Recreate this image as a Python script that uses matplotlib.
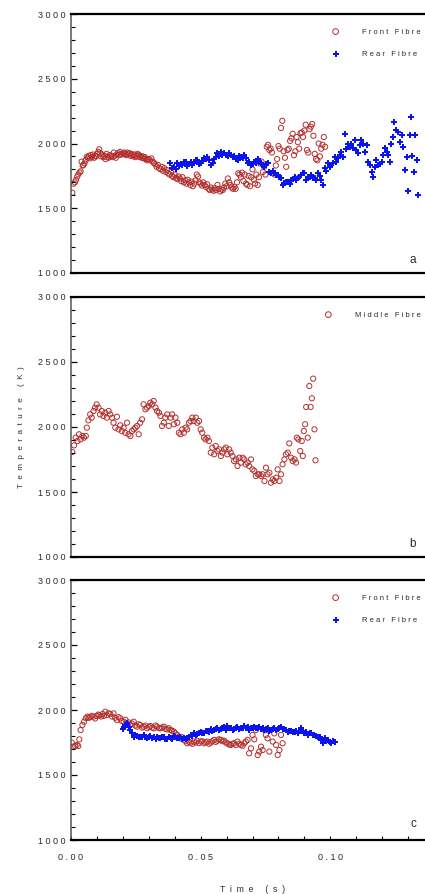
import numpy as np
import matplotlib
matplotlib.use("Agg")
import matplotlib.pyplot as plt

plt.rcParams['font.family'] = ['Liberation Sans', 'DejaVu Sans']

# panel a - front fibre (time s, temperature K)
a_front_t = [0.0005, 0.0010, 0.0015, 0.0019, 0.0024, 0.0028, 0.0033, 0.0037, 0.0041, 0.0045,
             0.0048, 0.0052, 0.0056, 0.0061, 0.0065, 0.0069, 0.0073, 0.0077, 0.0081, 0.0085,
             0.0089, 0.0093, 0.0097, 0.0101, 0.0105, 0.0109, 0.0113, 0.0117, 0.0121, 0.0125,
             0.0129, 0.0133, 0.0137, 0.0141, 0.0145, 0.0149, 0.0153, 0.0157, 0.0161, 0.0165,
             0.0169, 0.0173, 0.0177, 0.0181, 0.0185, 0.0189, 0.0193, 0.0197, 0.0201, 0.0205,
             0.0209, 0.0213, 0.0217, 0.0221, 0.0225, 0.0229, 0.0233, 0.0237, 0.0241, 0.0245,
             0.0249, 0.0253, 0.0257, 0.0261, 0.0265, 0.0269, 0.0273, 0.0277, 0.0281, 0.0285,
             0.0289, 0.0293, 0.0297, 0.0300, 0.0305, 0.0310, 0.0315, 0.0320, 0.0325, 0.0330,
             0.0335, 0.0340, 0.0345, 0.0350, 0.0355, 0.0360, 0.0365, 0.0370, 0.0375, 0.0380,
             0.0385, 0.0390, 0.0395, 0.0400, 0.0405, 0.0410, 0.0415, 0.0420, 0.0425, 0.0430,
             0.0435, 0.0440, 0.0445, 0.0450, 0.0455, 0.0460, 0.0465, 0.0470, 0.0475, 0.0480,
             0.0485, 0.0490, 0.0495, 0.0500, 0.0505, 0.0510, 0.0515, 0.0520, 0.0525, 0.0530,
             0.0535, 0.0540, 0.0545, 0.0550, 0.0555, 0.0560, 0.0565, 0.0570, 0.0575, 0.0580,
             0.0585, 0.0590, 0.0595, 0.0600, 0.0605, 0.0610, 0.0615, 0.0620, 0.0625, 0.0630,
             0.0635, 0.0640, 0.0645, 0.0650, 0.0655, 0.0660, 0.0665, 0.0670, 0.0675, 0.0680,
             0.0685, 0.0690, 0.0695, 0.0700, 0.0705, 0.0710, 0.0715, 0.0720, 0.0725, 0.0730,
             0.0735, 0.0740, 0.0745, 0.0750, 0.0755, 0.0760, 0.0765, 0.0770, 0.0775, 0.0780,
             0.0785, 0.0790, 0.0795, 0.0800, 0.0805, 0.0810, 0.0815, 0.0820, 0.0825, 0.0830,
             0.0835, 0.0840, 0.0845, 0.0850, 0.0855, 0.0860, 0.0865, 0.0870, 0.0875, 0.0880,
             0.0885, 0.0890, 0.0895, 0.0900, 0.0905, 0.0910, 0.0915, 0.0920, 0.0925, 0.0930,
             0.0935, 0.0940, 0.0945, 0.0950, 0.0955, 0.0960, 0.0965, 0.0970, 0.0975, 0.0980]
a_front_T = [1620, 1690, 1700, 1718, 1745, 1762, 1775, 1785, 1860, 1830,
             1833, 1846, 1870, 1897, 1890, 1905, 1885, 1910, 1895, 1915,
             1890, 1905, 1900, 1920, 1935, 1955, 1925, 1900, 1915, 1895,
             1905, 1880, 1920, 1895, 1890, 1910, 1900, 1905, 1895, 1930,
             1905, 1890, 1915, 1925, 1910, 1935, 1920, 1915, 1925, 1930,
             1920, 1910, 1930, 1915, 1925, 1905, 1920, 1910, 1900, 1915,
             1895, 1905, 1920, 1910, 1895, 1905, 1890, 1900, 1885, 1895,
             1880, 1870, 1880, 1880, 1870, 1885, 1860, 1850, 1840, 1820,
             1835, 1810, 1800, 1820, 1790, 1810, 1780, 1795, 1770, 1760,
             1780, 1750, 1740, 1760, 1735, 1725, 1745, 1730, 1710, 1740,
             1700, 1715, 1690, 1720, 1700, 1680, 1705, 1670, 1690, 1715,
             1760, 1745, 1700, 1690, 1675, 1700, 1680, 1665, 1685, 1650,
             1640, 1660, 1645, 1635, 1655, 1640, 1680, 1650, 1630, 1645,
             1640, 1660, 1690, 1670, 1730, 1700, 1680, 1660, 1650, 1665,
             1650, 1700, 1770, 1760, 1740, 1775, 1710, 1760, 1690, 1680,
             1750, 1670, 1740, 1800, 1720, 1690, 1760, 1680, 1740, 1845,
             1860, 1780, 1820, 1760, 1975, 1990, 1950, 1960, 1930, 1770,
             1760, 1830, 1880, 1980, 1960, 2120, 2175, 1940, 1890, 1820,
             1950, 1960, 2020, 2040, 2075, 1910, 1940, 2050, 2010, 1960,
             2080, 2085, 2050, 2100, 2145, 1950, 1930, 2110, 2130, 2150,
             2060, 1920, 1880, 1870, 2000, 1900, 1960, 1990, 2050, 1975]

# panel a - rear fibre
a_rear_t = [0.0381, 0.0389, 0.0397, 0.0404, 0.0410, 0.0417, 0.0423, 0.0429, 0.0436, 0.0442,
            0.0449, 0.0455, 0.0462, 0.0468, 0.0474, 0.0481, 0.0487, 0.0494, 0.0500, 0.0507,
            0.0513, 0.0520, 0.0526, 0.0533, 0.0539, 0.0548, 0.0552, 0.0558, 0.0565, 0.0571,
            0.0578, 0.0584, 0.0591, 0.0597, 0.0604, 0.0610, 0.0617, 0.0623, 0.0630, 0.0636,
            0.0643, 0.0649, 0.0656, 0.0662, 0.0668, 0.0674, 0.0681, 0.0688, 0.0694, 0.0700,
            0.0707, 0.0713, 0.0720, 0.0726, 0.0733, 0.0740, 0.0746, 0.0752, 0.0758, 0.0765,
            0.0771, 0.0778, 0.0784, 0.0790, 0.0797, 0.0803, 0.0810, 0.0817, 0.0823, 0.0830,
            0.0836, 0.0843, 0.0849, 0.0856, 0.0862, 0.0868, 0.0875, 0.0881, 0.0888, 0.0894,
            0.0900, 0.0907, 0.0913, 0.0920, 0.0927, 0.0933, 0.0940, 0.0946, 0.0952, 0.0959,
            0.0965, 0.0972, 0.0978, 0.0985, 0.0991, 0.0998, 0.1004, 0.1010, 0.1017, 0.1023,
            0.1030, 0.1036, 0.1043, 0.1049, 0.1056, 0.1062, 0.1068, 0.1075, 0.1081, 0.1088,
            0.1094, 0.1101, 0.1107, 0.1114, 0.1120, 0.1127, 0.1133, 0.1140, 0.1146, 0.1152,
            0.1159, 0.1165, 0.1172, 0.1178, 0.1185, 0.1191, 0.1198, 0.1204, 0.1211, 0.1217,
            0.1224, 0.1230, 0.1236, 0.1243, 0.1247, 0.1253, 0.1260, 0.1269, 0.1275, 0.1282,
            0.1288, 0.1295, 0.1301, 0.1307, 0.1311, 0.1317, 0.1323, 0.1327, 0.1333, 0.1337]
a_rear_T = [1850, 1810, 1820, 1800, 1846, 1825, 1840, 1833, 1855, 1859,
            1830, 1841, 1860, 1835, 1851, 1870, 1872, 1840, 1846, 1865,
            1885, 1880, 1897, 1870, 1833, 1851, 1880, 1897, 1923, 1905,
            1936, 1915, 1925, 1910, 1900, 1923, 1915, 1897, 1905, 1880,
            1872, 1900, 1897, 1885, 1910, 1885, 1846, 1860, 1833, 1840,
            1859, 1850, 1877, 1860, 1846, 1835, 1820, 1840, 1846, 1782,
            1770, 1790, 1770, 1760, 1757, 1745, 1731, 1680, 1692, 1700,
            1705, 1690, 1718, 1725, 1744, 1720, 1731, 1745, 1757, 1770,
            1770, 1718, 1740, 1744, 1757, 1735, 1730, 1718, 1770, 1750,
            1718, 1680, 1808, 1790, 1846, 1820, 1833, 1846, 1897, 1860,
            1885, 1910, 1936, 1895, 2077, 1960, 2000, 1974, 2000, 1962,
            2026, 1949, 1923, 1990, 2026, 2000, 1936, 1987, 1859, 1833,
            1782, 1744, 1820, 1872, 1833, 1845, 1859, 1910, 1962, 1936,
            1910, 1859, 2000, 2051, 2167, 2103, 2090, 2013, 2064, 1974,
            1795, 1897, 1633, 2064, 2205, 1905, 1782, 2064, 1872, 1603]

# panel b - middle fibre
b_mid_t = [0.0005, 0.0012, 0.0018, 0.0025, 0.0031, 0.0037, 0.0044, 0.0050, 0.0057, 0.0061,
           0.0067, 0.0074, 0.0080, 0.0087, 0.0093, 0.0099, 0.0106, 0.0112, 0.0119, 0.0125,
           0.0132, 0.0138, 0.0145, 0.0151, 0.0158, 0.0164, 0.0171, 0.0177, 0.0183, 0.0190,
           0.0196, 0.0203, 0.0209, 0.0216, 0.0222, 0.0229, 0.0235, 0.0242, 0.0248, 0.0255,
           0.0261, 0.0267, 0.0274, 0.0280, 0.0287, 0.0293, 0.0300, 0.0306, 0.0313, 0.0319,
           0.0326, 0.0332, 0.0339, 0.0345, 0.0351, 0.0358, 0.0364, 0.0371, 0.0377, 0.0384,
           0.0390, 0.0397, 0.0403, 0.0410, 0.0416, 0.0422, 0.0429, 0.0435, 0.0442, 0.0448,
           0.0455, 0.0461, 0.0468, 0.0474, 0.0481, 0.0487, 0.0494, 0.0500, 0.0506, 0.0513,
           0.0519, 0.0526, 0.0532, 0.0539, 0.0545, 0.0552, 0.0558, 0.0565, 0.0571, 0.0578,
           0.0584, 0.0591, 0.0597, 0.0603, 0.0610, 0.0616, 0.0623, 0.0629, 0.0636, 0.0642,
           0.0649, 0.0655, 0.0662, 0.0668, 0.0674, 0.0681, 0.0687, 0.0694, 0.0700, 0.0707,
           0.0713, 0.0720, 0.0726, 0.0733, 0.0739, 0.0746, 0.0752, 0.0758, 0.0765, 0.0771,
           0.0778, 0.0784, 0.0791, 0.0797, 0.0804, 0.0810, 0.0816, 0.0823, 0.0829, 0.0836,
           0.0842, 0.0849, 0.0855, 0.0862, 0.0868, 0.0871, 0.0877, 0.0884, 0.0890, 0.0894,
           0.0898, 0.0903, 0.0907, 0.0913, 0.0919, 0.0924, 0.0929, 0.0934, 0.0939, 0.0943]
b_mid_T = [1808, 1859, 1918, 1892, 1944, 1905, 1931, 1918, 1931, 1995,
           2051, 2097, 2072, 2123, 2149, 2174, 2149, 2097, 2123, 2085,
           2110, 2072, 2123, 2097, 2072, 2033, 1995, 2079, 1982, 2013,
           1969, 1995, 1956, 2033, 1944, 1931, 1969, 1982, 1995, 2008,
           1944, 2033, 2059, 2174, 2136, 2149, 2162, 2187, 2174, 2200,
           2149, 2123, 2110, 2085, 2008, 2033, 2072, 2097, 2008, 2072,
           2097, 2021, 2072, 2033, 1956, 1944, 1982, 1956, 1995, 1982,
           2033, 2046, 2072, 2046, 2072, 2033, 2046, 1982, 1956, 1918,
           1905, 1918, 1892, 1803, 1841, 1790, 1854, 1815, 1828, 1777,
           1803, 1828, 1841, 1790, 1828, 1803, 1777, 1738, 1751, 1700,
           1764, 1726, 1764, 1751, 1713, 1726, 1700, 1751, 1674, 1662,
           1623, 1636, 1636, 1623, 1636, 1585, 1687, 1636, 1649, 1572,
           1597, 1585, 1610, 1674, 1585, 1636, 1713, 1751, 1790, 1803,
           1874, 1764, 1738, 1751, 1726, 1918, 1905, 1815, 1892, 1777,
           1969, 2021, 2154, 1918, 2315, 2154, 2221, 2372, 1982, 1744]

# panel c - front fibre
c_front_t = [0.0003, 0.0009, 0.0016, 0.0022, 0.0028, 0.0032, 0.0037, 0.0044, 0.0050, 0.0057,
             0.0063, 0.0068, 0.0074, 0.0080, 0.0087, 0.0093, 0.0099, 0.0105, 0.0110, 0.0116,
             0.0122, 0.0127, 0.0132, 0.0138, 0.0145, 0.0151, 0.0158, 0.0164, 0.0170, 0.0177,
             0.0183, 0.0190, 0.0196, 0.0203, 0.0210, 0.0216, 0.0222, 0.0229, 0.0235, 0.0242,
             0.0248, 0.0255, 0.0261, 0.0267, 0.0274, 0.0280, 0.0287, 0.0293, 0.0300, 0.0306,
             0.0313, 0.0319, 0.0326, 0.0332, 0.0339, 0.0345, 0.0351, 0.0358, 0.0364, 0.0371,
             0.0377, 0.0384, 0.0390, 0.0397, 0.0403, 0.0410, 0.0416, 0.0422, 0.0429, 0.0435,
             0.0442, 0.0448, 0.0455, 0.0461, 0.0468, 0.0474, 0.0481, 0.0487, 0.0494, 0.0500,
             0.0506, 0.0513, 0.0519, 0.0526, 0.0532, 0.0539, 0.0545, 0.0552, 0.0558, 0.0565,
             0.0571, 0.0578, 0.0584, 0.0591, 0.0597, 0.0603, 0.0610, 0.0616, 0.0623, 0.0629,
             0.0636, 0.0642, 0.0649, 0.0655, 0.0662, 0.0668, 0.0674, 0.0681, 0.0687, 0.0694,
             0.0700, 0.0707, 0.0713, 0.0720, 0.0726, 0.0733, 0.0739, 0.0746, 0.0752, 0.0758,
             0.0765, 0.0771, 0.0778, 0.0784, 0.0791, 0.0797, 0.0804, 0.0810, 0.0816]
c_front_T = [1749, 1718, 1723, 1731, 1723, 1774, 1846, 1885, 1910, 1936,
             1949, 1940, 1944, 1955, 1949, 1935, 1954, 1965, 1960, 1950,
             1970, 1955, 1987, 1960, 1975, 1969, 1950, 1974, 1940, 1923,
             1945, 1936, 1915, 1910, 1925, 1897, 1905, 1885, 1895, 1910,
             1880, 1872, 1890, 1885, 1865, 1872, 1880, 1859, 1870, 1877,
             1865, 1859, 1880, 1872, 1860, 1859, 1865, 1872, 1855, 1851,
             1860, 1846, 1840, 1833, 1820, 1808, 1795, 1782, 1790, 1770,
             1760, 1744, 1755, 1749, 1740, 1757, 1750, 1764, 1745, 1757,
             1760, 1744, 1752, 1757, 1740, 1749, 1760, 1770, 1755, 1764,
             1775, 1770, 1760, 1764, 1750, 1744, 1735, 1731, 1740, 1744,
             1730, 1757, 1740, 1731, 1725, 1744, 1757, 1770, 1667, 1705,
             1808, 1774, 1846, 1654, 1680, 1718, 1692, 1846, 1808, 1782,
             1680, 1846, 1757, 1820, 1731, 1654, 1692, 1808, 1744]

# panel c - rear fibre
c_rear_t = [0.0200, 0.0205, 0.0209, 0.0216, 0.0222, 0.0229, 0.0235, 0.0242, 0.0248, 0.0255,
            0.0261, 0.0267, 0.0274, 0.0280, 0.0287, 0.0293, 0.0300, 0.0306, 0.0313, 0.0319,
            0.0326, 0.0332, 0.0339, 0.0345, 0.0351, 0.0358, 0.0364, 0.0371, 0.0377, 0.0384,
            0.0390, 0.0397, 0.0403, 0.0410, 0.0416, 0.0422, 0.0429, 0.0435, 0.0442, 0.0448,
            0.0455, 0.0461, 0.0468, 0.0474, 0.0481, 0.0487, 0.0494, 0.0500, 0.0506, 0.0513,
            0.0519, 0.0526, 0.0532, 0.0539, 0.0545, 0.0552, 0.0558, 0.0565, 0.0571, 0.0578,
            0.0584, 0.0591, 0.0597, 0.0603, 0.0610, 0.0616, 0.0623, 0.0629, 0.0636, 0.0642,
            0.0649, 0.0655, 0.0662, 0.0668, 0.0674, 0.0681, 0.0687, 0.0694, 0.0700, 0.0707,
            0.0713, 0.0720, 0.0726, 0.0733, 0.0739, 0.0746, 0.0752, 0.0758, 0.0765, 0.0771,
            0.0778, 0.0784, 0.0791, 0.0797, 0.0804, 0.0810, 0.0816, 0.0823, 0.0829, 0.0836,
            0.0842, 0.0849, 0.0855, 0.0862, 0.0868, 0.0875, 0.0881, 0.0888, 0.0894, 0.0900,
            0.0907, 0.0913, 0.0920, 0.0926, 0.0933, 0.0939, 0.0946, 0.0952, 0.0959, 0.0965,
            0.0972, 0.0978, 0.0985, 0.0991, 0.0998, 0.1004, 0.1010, 0.1017]
c_rear_T = [1851, 1870, 1885, 1897, 1872, 1846, 1820, 1795, 1810, 1800,
            1790, 1795, 1790, 1808, 1795, 1782, 1790, 1800, 1785, 1795,
            1780, 1790, 1785, 1782, 1790, 1795, 1780, 1774, 1790, 1782,
            1775, 1800, 1790, 1782, 1785, 1795, 1780, 1782, 1775, 1782,
            1795, 1808, 1800, 1820, 1810, 1815, 1825, 1833, 1820, 1826,
            1835, 1841, 1830, 1851, 1840, 1846, 1855, 1859, 1845, 1851,
            1860, 1867, 1850, 1877, 1860, 1859, 1850, 1851, 1862, 1867,
            1855, 1859, 1865, 1877, 1860, 1867, 1850, 1859, 1865, 1872,
            1860, 1859, 1870, 1851, 1862, 1846, 1855, 1859, 1840, 1846,
            1855, 1859, 1845, 1851, 1860, 1867, 1855, 1851, 1845, 1833,
            1840, 1841, 1830, 1833, 1840, 1826, 1835, 1859, 1840, 1820,
            1830, 1808, 1825, 1820, 1810, 1808, 1800, 1795, 1790, 1770,
            1744, 1782, 1765, 1770, 1755, 1749, 1760, 1757]

y_ticks = [1000, 1500, 2000, 2500, 3000]
x_ticks = [0.00, 0.05, 0.10]
x_tick_text = ['0.00', '0.05', '0.10']

RED = '#b3302e'
BLUE = '#0a14f0'
TXT = '#2a2a2a'


def spaced(s, gap=' '):
    return gap.join(s)


def style_axes(ax, show_x):
    ax.set_xlim(0, 0.14)
    ax.set_ylim(1000, 3000)
    ax.spines['right'].set_visible(False)
    ax.spines['top'].set_linewidth(1.6)
    ax.spines['bottom'].set_linewidth(1.6)
    ax.spines['left'].set_linewidth(1.1)
    ax.spines['left'].set_color('#555555')
    ax.set_yticks(y_ticks)
    ax.set_yticklabels([spaced(str(v)) for v in y_ticks])
    ax.set_yticks(np.arange(1000, 3001, 100), minor=True)
    ax.tick_params(axis='y', which='major', direction='in', length=4, width=0.9,
                   pad=4, labelsize=6.5, labelcolor=TXT)
    ax.tick_params(axis='y', which='minor', direction='in', length=3, width=0.8)
    if show_x:
        ax.set_xticks(x_ticks)
        ax.set_xticklabels([spaced(s) for s in x_tick_text])
        ax.set_xticks(np.arange(0, 0.141, 0.01), minor=True)
        ax.tick_params(axis='x', which='both', direction='in', length=3, width=0.8,
                       pad=9, labelsize=6.5, labelcolor=TXT)
    else:
        ax.set_xticks([])
        ax.set_xticks([], minor=True)


def legend(ax, x0, y0):
    leg = ax.legend(loc='upper left', bbox_to_anchor=(x0, y0), frameon=False,
                    fontsize=5.5, handlelength=1.8, handletextpad=2.6, labelspacing=2.0,
                    borderpad=0, borderaxespad=0, markerscale=1.1)
    for t in leg.get_texts():
        t.set_color(TXT)


fig = plt.figure(figsize=(4.25, 8.94), dpi=100)
W = 425.0
H = 894.0
x_left = 71 / W
x_width = (434 - 71) / W

ax_a = fig.add_axes([x_left, 1 - 273 / H, x_width, 259 / H])
ax_b = fig.add_axes([x_left, 1 - 557 / H, x_width, 260 / H])
ax_c = fig.add_axes([x_left, 1 - 840 / H, x_width, 260 / H])

circ = dict(marker='o', s=14, facecolors='none', edgecolors=RED, linewidths=0.7)
plus = dict(marker='P', s=20, color=BLUE, linewidths=0)

ax_a.scatter(a_front_t, a_front_T, label=spaced('Front Fibre'), **circ)
ax_a.scatter(a_rear_t, a_rear_T, label=spaced('Rear Fibre'), **plus)
style_axes(ax_a, False)
legend(ax_a, 0.71, 0.945)
ax_a.text(0.942, 0.05, 'a', transform=ax_a.transAxes, fontsize=8.5, color=TXT,
          ha='center', va='center')

ax_b.scatter(b_mid_t, b_mid_T, label=spaced('Middle Fibre'), **circ)
style_axes(ax_b, False)
legend(ax_b, 0.69, 0.945)
ax_b.text(0.942, 0.05, 'b', transform=ax_b.transAxes, fontsize=8.5, color=TXT,
          ha='center', va='center')
ax_b.set_ylabel(spaced('Temperature (K)', '  '), fontsize=5.8, color=TXT, labelpad=9)

ax_c.scatter(c_front_t, c_front_T, label=spaced('Front Fibre'), **circ)
ax_c.scatter(c_rear_t, c_rear_T, label=spaced('Rear Fibre'), **plus)
style_axes(ax_c, True)
legend(ax_c, 0.71, 0.945)
ax_c.text(0.942, 0.06, 'c', transform=ax_c.transAxes, fontsize=8.5, color=TXT,
          ha='center', va='center')
ax_c.set_xlabel(spaced('Time (s)', '  '), fontsize=6.2, color=TXT, labelpad=17)

fig.savefig('out.png', dpi=100)
